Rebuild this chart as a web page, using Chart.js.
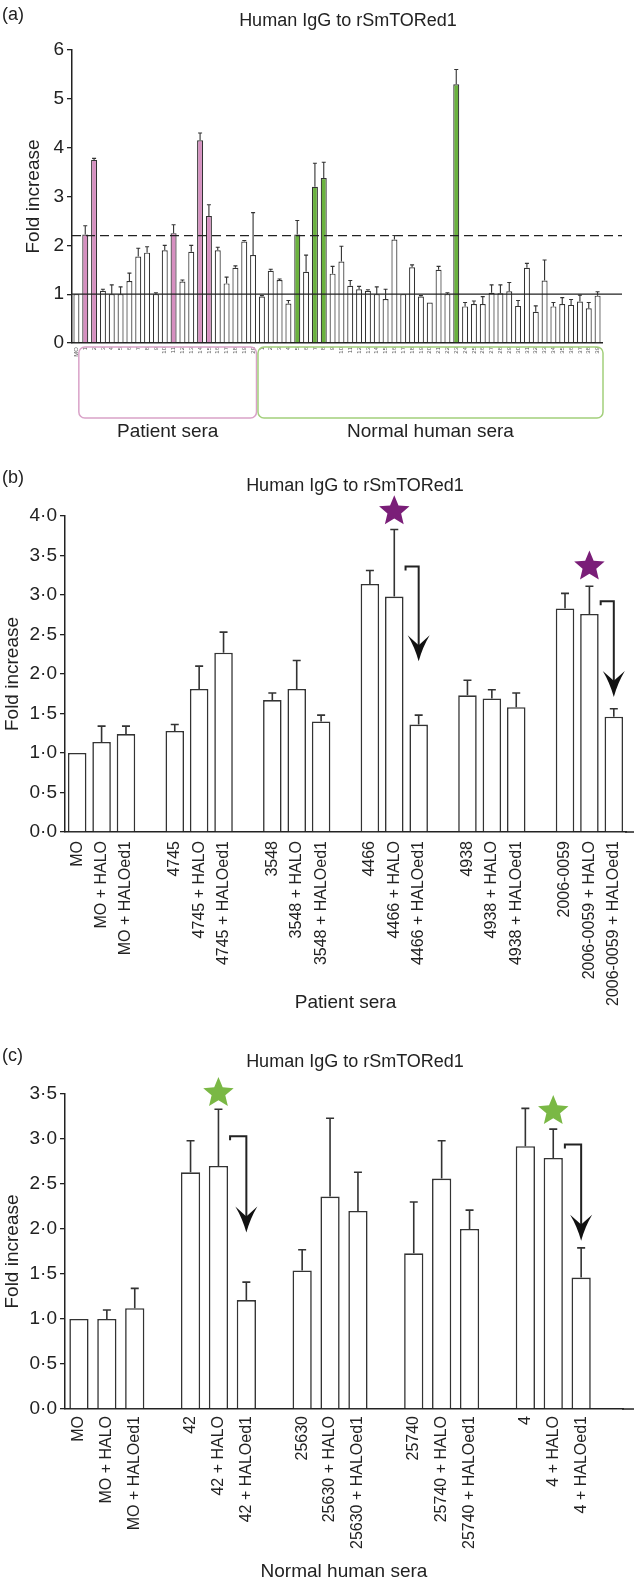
<!DOCTYPE html>
<html>
<head>
<meta charset="utf-8">
<title>Human IgG to rSmTORed1</title>
<script src="https://cdn.jsdelivr.net/npm/chart.js@4.4.1/dist/chart.umd.min.js"></script>
<style>
  html, body { margin: 0; padding: 0; background: #fff; }
  body { position: relative; width: 634px; height: 1584px; overflow: hidden; font-family: "Liberation Sans", Arial, sans-serif; color: #222; }
  canvas { position: absolute; left: 0; }
  .tag { position: absolute; left: 2px; font-size: 18px; line-height: 20px; }
</style>
</head>
<body>
<canvas id="chartA" width="634" height="455" style="top:0"></canvas>
<canvas id="chartB" width="650" height="570" style="top:455px"></canvas>
<canvas id="chartC" width="650" height="559" style="top:1025px"></canvas>
<div class="tag" style="top:4px">(a)</div>
<div class="tag" style="top:467px">(b)</div>
<div class="tag" style="top:1045px">(c)</div>
<script>
// ---- panel (a): screening of single sera ----
const screenLabels = ['MO',
  '1', '2', '3', '4', '5', '6', '7', '8', '9', '10', '11', '12', '13', '14', '15', '16', '17', '18', '19', '20',
  '1', '2', '3', '4', '5', '6', '7', '8', '9', '10', '11', '12', '13', '14', '15', '16', '17', '18', '19', '20',
  '21', '22', '23', '24', '25', '26', '27', '28', '29', '30', '31', '32', '33', '34', '35', '36', '37', '38', '39'];
const screenFold = [1.00,
  2.22, 3.75, 1.07, 1.00, 1.00, 1.27, 1.77, 1.85, 1.00, 1.90, 2.25, 1.26, 1.87, 4.15, 2.60, 1.90, 1.22, 1.54, 2.08, 1.80,
  0.95, 1.48, 1.29, 0.81, 2.22, 1.46, 3.20, 3.38, 1.42, 1.67, 1.17, 1.10, 1.07, 1.00, 0.90, 2.12, 1.00, 1.55, 0.95, 0.83,
  1.50, 1.00, 5.30, 0.75, 0.80, 0.80, 1.03, 1.02, 1.06, 0.76, 1.54, 0.64, 1.28, 0.75, 0.80, 0.78, 0.85, 0.71, 0.97];
const screenErr = [0,
  0.18, 0.03, 0.03, 0.19, 0.15, 0.16, 0.17, 0.12, 0.03, 0.10, 0.17, 0.03, 0.13, 0.15, 0.23, 0.06, 0.13, 0.04, 0.02, 0.87,
  0.02, 0.03, 0.02, 0.06, 0.29, 0.34, 0.48, 0.32, 0.15, 0.31, 0.11, 0.06, 0.02, 0.15, 0.20, 0.08, 0.00, 0.05, 0.02, 0.00,
  0.07, 0.03, 0.30, 0.08, 0.06, 0.15, 0.16, 0.17, 0.18, 0.11, 0.09, 0.12, 0.42, 0.08, 0.13, 0.11, 0.13, 0.12, 0.08];
const pinkBars = [1, 2, 11, 14, 15];
const greenBars = [25, 27, 28, 43];
const patientRange = [1, 20];
const normalRange = [21, 59];
const cutoffLine = 2.2;
const baseLine = 1.0;

// ---- panels (b) and (c): competition with HALO / HALOed1 ----
const treatments = ['', ' + HALO', ' + HALOed1'];
const patientGroups = ['MO', '4745', '3548', '4466', '4938', '2006-0059'];
const patientFold = [1.00, 1.14, 1.24, 1.28, 1.81, 2.27, 1.67, 1.81, 1.40, 3.14, 2.98, 1.36, 1.73, 1.69, 1.58, 2.83, 2.76, 1.46];
const patientErr = [0, 0.20, 0.10, 0.08, 0.29, 0.26, 0.09, 0.36, 0.08, 0.17, 0.85, 0.12, 0.19, 0.11, 0.18, 0.19, 0.35, 0.10];
const patientStars = [[10, 4.06], [16, 3.36]];
const patientArrows = [[10, 11, 3.36, 2.16], [16, 17, 2.92, 1.71]];

const normalGroups = ['MO', '42', '25630', '25740', '4'];
const normalFold = [1.00, 1.00, 1.12, 2.63, 2.70, 1.21, 1.54, 2.36, 2.20, 1.73, 2.56, 2.00, 2.92, 2.79, 1.46];
const normalErr = [0, 0.10, 0.22, 0.35, 0.63, 0.20, 0.23, 0.87, 0.43, 0.57, 0.42, 0.21, 0.42, 0.32, 0.33];
const normalStars = [[4, 3.51], [13, 3.31]];
const normalArrows = [[4, 5, 3.03, 1.96], [13, 14, 2.94, 1.87]];

const FONT = '"Liberation Sans", Arial, sans-serif';
const INK = '#222';
const PINK = '#d68fc0';
const GREEN = '#6ab23e';
const PURPLE = '#7a1e78';
const LIME = '#7ab845';
const TITLE = 'Human IgG to rSmTORed1';

// 3 bars per group, one empty slot between groups
function buildSlots(groups, values, errs, trailing) {
  const labels = [], data = [], err = [], slotOf = [];
  groups.forEach((g, gi) => {
    treatments.forEach((t, ti) => {
      slotOf.push(labels.length);
      labels.push(g + t);
      data.push(values[gi * 3 + ti]);
      err.push(errs[gi * 3 + ti]);
    });
    if (gi < groups.length - 1) { labels.push(''); data.push(null); err.push(0); }
  });
  for (let k = 0; k < trailing; k++) { labels.push(''); data.push(null); err.push(0); }
  return { labels, data, err, slotOf };
}

function errorPlugin(errs, cap, width) {
  return {
    id: 'errorBars',
    afterDatasetsDraw(chart) {
      const ctx = chart.ctx, y = chart.scales.y;
      const vals = chart.data.datasets[0].data;
      ctx.save();
      ctx.strokeStyle = '#333';
      ctx.lineWidth = width;
      chart.getDatasetMeta(0).data.forEach((bar, i) => {
        if (vals[i] == null || !errs[i]) return;
        const top = y.getPixelForValue(vals[i] + errs[i]);
        ctx.beginPath();
        ctx.moveTo(bar.x, bar.y);
        ctx.lineTo(bar.x, top);
        ctx.moveTo(bar.x - cap / 2, top);
        ctx.lineTo(bar.x + cap / 2, top);
        ctx.stroke();
      });
      ctx.restore();
    }
  };
}

// chart title, and the x axis carried on to the page edge
function framePlugin(cx, cy, extendAxis) {
  return {
    id: 'frame',
    afterDraw(chart) {
      const ctx = chart.ctx, area = chart.chartArea;
      ctx.save();
      ctx.fillStyle = INK;
      ctx.font = '18px ' + FONT;
      ctx.textAlign = 'center';
      ctx.textBaseline = 'middle';
      ctx.fillText(TITLE, cx, cy);
      if (extendAxis) {
        ctx.strokeStyle = INK;
        ctx.lineWidth = 1.5;
        ctx.beginPath();
        ctx.moveTo(area.right - 1, area.bottom);
        ctx.lineTo(chart.width, area.bottom);
        ctx.stroke();
      }
      ctx.restore();
    }
  };
}

function drawStar(ctx, cx, cy, R, color) {
  ctx.beginPath();
  for (let k = 0; k < 10; k++) {
    const rad = k % 2 ? R * 0.45 : R;
    const a = -Math.PI / 2 + k * Math.PI / 5;
    const px = cx + rad * Math.cos(a), py = cy + rad * Math.sin(a);
    if (k) ctx.lineTo(px, py); else ctx.moveTo(px, py);
  }
  ctx.closePath();
  ctx.fillStyle = color;
  ctx.fill();
}

function markPlugin(slotOf, stars, arrows, starColor) {
  return {
    id: 'marks',
    afterDatasetsDraw(chart) {
      const ctx = chart.ctx, y = chart.scales.y;
      const bars = chart.getDatasetMeta(0).data;
      ctx.save();
      stars.forEach(([i, v]) => drawStar(ctx, bars[slotOf[i]].x, y.getPixelForValue(v), 16, starColor));
      arrows.forEach(([from, to, topV, tipV]) => {
        const a = bars[slotOf[from]], b = bars[slotOf[to]];
        const x1 = a.x + a.width / 2 + 2, x2 = b.x;
        const yTop = y.getPixelForValue(topV), yTip = y.getPixelForValue(tipV);
        const headH = 26, headW = 11;
        ctx.strokeStyle = INK;
        ctx.lineWidth = 2;
        ctx.beginPath();
        ctx.moveTo(x1, yTop + 4);
        ctx.lineTo(x1, yTop);
        ctx.lineTo(x2, yTop);
        ctx.lineTo(x2, yTip - headH * 0.6);
        ctx.stroke();
        ctx.fillStyle = '#111';
        ctx.beginPath();
        ctx.moveTo(x2, yTip);
        ctx.quadraticCurveTo(x2 - 4, yTip - headH * 0.55, x2 - headW, yTip - headH);
        ctx.lineTo(x2, yTip - headH * 0.62);
        ctx.lineTo(x2 + headW, yTip - headH);
        ctx.quadraticCurveTo(x2 + 4, yTip - headH * 0.55, x2, yTip);
        ctx.closePath();
        ctx.fill();
      });
      ctx.restore();
    }
  };
}

function roundBox(ctx, x0, y0, x1, y1, r, color) {
  ctx.beginPath();
  ctx.moveTo(x0 + r, y0);
  ctx.arcTo(x1, y0, x1, y1, r);
  ctx.arcTo(x1, y1, x0, y1, r);
  ctx.arcTo(x0, y1, x0, y0, r);
  ctx.arcTo(x0, y0, x1, y0, r);
  ctx.closePath();
  ctx.strokeStyle = color;
  ctx.lineWidth = 1.5;
  ctx.stroke();
}

const screenDecor = {
  id: 'screenDecor',
  afterDatasetsDraw(chart) {
    const ctx = chart.ctx, x = chart.scales.x, y = chart.scales.y;
    const area = chart.chartArea;
    const slot = x.width / screenLabels.length;
    ctx.save();
    ctx.strokeStyle = INK;
    ctx.lineWidth = 1.3;
    ctx.setLineDash([9, 5]);
    ctx.beginPath();
    ctx.moveTo(area.left, y.getPixelForValue(cutoffLine));
    ctx.lineTo(area.right + 20, y.getPixelForValue(cutoffLine));
    ctx.stroke();
    ctx.setLineDash([]);
    ctx.lineWidth = 1.1;
    ctx.beginPath();
    ctx.moveTo(area.left, y.getPixelForValue(baseLine));
    ctx.lineTo(area.right + 20, y.getPixelForValue(baseLine));
    ctx.stroke();

    const top = area.bottom + 4, bottom = area.bottom + 75;
    const pL = x.getPixelForValue(patientRange[0]) - slot / 2 - 2;
    const pR = x.getPixelForValue(patientRange[1]) + slot / 2 - 1;
    const nL = pR + 1.5;
    const nR = x.getPixelForValue(normalRange[1]) + slot / 2 + 1;
    roundBox(ctx, pL, top, pR, bottom, 6, '#d9a2c8');
    roundBox(ctx, nL, top, nR, bottom, 6, '#a3cf7b');
    ctx.fillStyle = INK;
    ctx.font = '19px ' + FONT;
    ctx.textAlign = 'center';
    ctx.textBaseline = 'middle';
    ctx.fillText('Patient sera', (pL + pR) / 2, bottom + 14);
    ctx.fillText('Normal human sera', (nL + nR) / 2, bottom + 14);
    ctx.restore();
  }
};

function yAxis(max, step, left, titlePad, fmt) {
  return {
    min: 0, max: max,
    ticks: { stepSize: step, color: INK, padding: 3, font: { size: 19, family: FONT }, callback: fmt },
    grid: { drawOnChartArea: false, drawTicks: true, tickLength: 5, color: INK, lineWidth: 1.3 },
    border: { display: true, color: INK, width: 1.5 },
    title: { display: true, text: 'Fold increase', color: INK, font: { size: 19, family: FONT }, padding: { top: titlePad, bottom: 0 } },
    afterFit(s) { s.width = left; }
  };
}

const dotFmt = v => v.toFixed(1).replace('.', '\u00b7');

// ---- chart (a) ----
new Chart(document.getElementById('chartA'), {
  type: 'bar',
  data: {
    labels: screenLabels,
    datasets: [{
      data: screenFold,
      backgroundColor: screenFold.map((v, i) => pinkBars.includes(i) ? PINK : greenBars.includes(i) ? GREEN : '#fff'),
      borderColor: '#333',
      borderWidth: 1.2,
      barPercentage: 0.68,
      categoryPercentage: 1
    }]
  },
  options: {
    responsive: false,
    animation: false,
    layout: { padding: { left: 0, right: 32, top: 50, bottom: 0 } },
    plugins: { legend: { display: false }, tooltip: { enabled: false }, title: { display: false } },
    scales: {
      x: {
        offset: true,
        grid: { display: false, drawTicks: false },
        border: { display: true, color: INK, width: 1.5 },
        ticks: { autoSkip: false, maxRotation: 90, minRotation: 90, padding: 4, color: '#555', font: { size: 6, family: FONT } },
        afterFit(s) { s.height = 112; }
      },
      y: yAxis(6, 1, 72, 22.5, v => String(v))
    }
  },
  plugins: [screenDecor, errorPlugin(screenErr, 4, 1.1), framePlugin(348, 21, false)]
});

// ---- charts (b) and (c) ----
function competitionChart(id, groups, fold, errs, trailing, cfg) {
  const s = buildSlots(groups, fold, errs, trailing);
  new Chart(document.getElementById(id), {
    type: 'bar',
    data: {
      labels: s.labels,
      datasets: [{
        data: s.data,
        backgroundColor: '#fff',
        borderColor: '#333',
        borderWidth: 1.6,
        barPercentage: cfg.barPct,
        categoryPercentage: 1
      }]
    },
    options: {
      responsive: false,
      animation: false,
      layout: { padding: { left: 0, right: cfg.padRight, top: cfg.padTop, bottom: 0 } },
      plugins: { legend: { display: false }, tooltip: { enabled: false }, title: { display: false } },
      scales: {
        x: {
          offset: true,
          grid: { display: false, drawTicks: false },
          border: { display: true, color: INK, width: 1.5 },
          ticks: { autoSkip: false, maxRotation: 90, minRotation: 90, padding: cfg.labelPad, color: INK, font: { size: 16, family: FONT } },
          title: { display: true, text: cfg.xTitle, color: INK, font: { size: 19, family: FONT }, padding: { top: 0, bottom: cfg.xTitlePad } },
          afterFit(sc) { sc.height = cfg.xHeight; }
        },
        y: yAxis(cfg.max, 0.5, cfg.left, 1, dotFmt)
      }
    },
    plugins: [errorPlugin(s.err, 8, 1.6), markPlugin(s.slotOf, cfg.stars, cfg.arrows, cfg.starColor), framePlugin(355, cfg.titleY, true)]
  });
}

competitionChart('chartB', patientGroups, patientFold, patientErr, 0, {
  barPct: 0.76, padRight: 24, padTop: 61, left: 65, max: 4, titleY: 31, labelPad: 9,
  xTitle: 'Patient sera', xTitlePad: 10.6, xHeight: 193,
  stars: patientStars, arrows: patientArrows, starColor: PURPLE
});

competitionChart('chartC', normalGroups, normalFold, normalErr, 1, {
  barPct: 0.69, padRight: 27, padTop: 69, left: 65, max: 3.5, titleY: 37, labelPad: 7,
  xTitle: 'Normal human sera', xTitlePad: 0.6, xHeight: 175,
  stars: normalStars, arrows: normalArrows, starColor: LIME
});
</script>
</body>
</html>
